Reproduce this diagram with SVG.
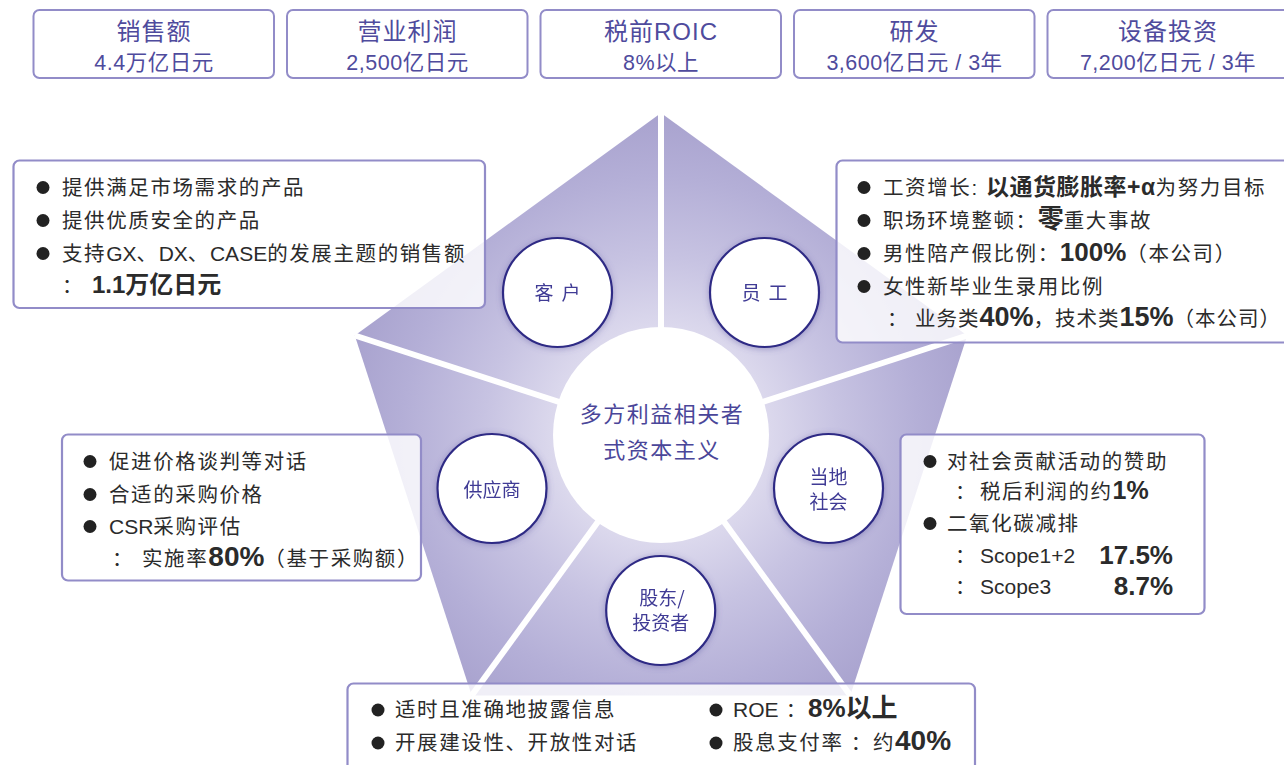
<svg xmlns="http://www.w3.org/2000/svg" width="1284" height="765" viewBox="0 0 1284 765">
<defs>
<radialGradient id="pg" gradientUnits="userSpaceOnUse" cx="661" cy="435" r="322">
<stop offset="0" stop-color="#f4f3fa"/>
<stop offset="0.33" stop-color="#dcd9ed"/>
<stop offset="0.55" stop-color="#c7c3e2"/>
<stop offset="0.8" stop-color="#b4afd7"/>
<stop offset="1" stop-color="#a8a2ce"/>
</radialGradient>
<filter id="glow" x="-30%" y="-30%" width="160%" height="160%">
<feGaussianBlur in="SourceAlpha" stdDeviation="3"/>
<feOffset dx="0" dy="1" result="b"/>
<feFlood flood-color="#5a549e" flood-opacity="0.45"/>
<feComposite in2="b" operator="in"/>
<feMerge><feMergeNode/><feMergeNode in="SourceGraphic"/></feMerge>
</filter>
<style>
.kbox{fill:#ffffff;stroke:#928cc8;stroke-width:2}
.ibox{fill:#ffffff;fill-opacity:0.82;stroke:#928cc8;stroke-width:2.2}
.kt{font-family:"Liberation Sans","Noto Sans CJK SC",sans-serif;fill:#4f4b9d;text-anchor:middle;letter-spacing:1px}
.kt1{font-size:24px}
.kt2{font-size:21.5px;letter-spacing:0.5px}
.bt{font-family:"Liberation Sans","Noto Sans CJK SC",sans-serif;font-size:20.5px;fill:#2b2b2b;letter-spacing:1.6px}
.l{letter-spacing:0;font-size:21px}
.b{font-weight:bold;letter-spacing:0}
.dot{fill:#222222}
.sc{fill:#ffffff;stroke:#2f2b85;stroke-width:2.2}
.st{font-family:"Noto Sans CJK SC","Liberation Sans",sans-serif;font-size:19px;fill:#3f3b95;text-anchor:middle}
.ct{font-family:"Noto Sans CJK SC","Liberation Sans",sans-serif;font-size:22px;fill:#4a4699;text-anchor:middle;letter-spacing:1.5px}
.div{stroke:#ffffff;stroke-width:6}
</style>
</defs>

<g id="pentagon">
<polygon points="661,113 967.2,335.5 850.3,695.5 471.7,695.5 354.8,335.5" fill="url(#pg)"/>
</g>
<g id="connectors">
<line class="div" x1="661" y1="435" x2="661" y2="113"/>
<line class="div" x1="661" y1="435" x2="967.2" y2="335.5"/>
<line class="div" x1="661" y1="435" x2="850.3" y2="695.5"/>
<line class="div" x1="661" y1="435" x2="471.7" y2="695.5"/>
<line class="div" x1="661" y1="435" x2="354.8" y2="335.5"/>
</g>

<g id="center">
<circle cx="661" cy="435" r="108" fill="#ffffff"/>
<text class="ct" x="662" y="422">多方利益相关者</text>
<text class="ct" x="662" y="458">式资本主义</text>
</g>

<g id="n-customer" filter="url(#glow)">
<circle class="sc" cx="557.5" cy="292.5" r="54.5"/>
<text class="st" x="561.5" y="299.5" style="letter-spacing:8px">客户</text>
</g>
<g id="n-employee" filter="url(#glow)">
<circle class="sc" cx="764.5" cy="292.5" r="54.5"/>
<text class="st" x="768.5" y="299.5" style="letter-spacing:8px">员工</text>
</g>
<g id="n-supplier" filter="url(#glow)">
<circle class="sc" cx="492" cy="488.5" r="54.5"/>
<text class="st" x="492" y="497">供应商</text>
</g>
<g id="n-community" filter="url(#glow)">
<circle class="sc" cx="828.5" cy="488.5" r="54.5"/>
<text class="st" x="828.5" y="484">当地</text>
<text class="st" x="828.5" y="508.5">社会</text>
</g>
<g id="n-shareholder" filter="url(#glow)">
<circle class="sc" cx="660.7" cy="610.5" r="54.5"/>
<text class="st" x="662" y="605">股东/</text>
<text class="st" x="660.7" y="630">投资者</text>
</g>

<g id="k-sales">
<rect class="kbox" x="33.5" y="10" width="240.5" height="68" rx="6"/>
<text class="kt kt1" x="154" y="40">销售额</text>
<text class="kt kt2" x="154" y="70">4.4万亿日元</text>
</g>
<g id="k-profit">
<rect class="kbox" x="287" y="10" width="240.5" height="68" rx="6"/>
<text class="kt kt1" x="407.5" y="40">营业利润</text>
<text class="kt kt2" x="407.5" y="70">2,500亿日元</text>
</g>
<g id="k-roic">
<rect class="kbox" x="540.5" y="10" width="240.5" height="68" rx="6"/>
<text class="kt kt1" x="661" y="40">税前ROIC</text>
<text class="kt kt2" x="661" y="70">8%以上</text>
</g>
<g id="k-rd">
<rect class="kbox" x="794" y="10" width="240.5" height="68" rx="6"/>
<text class="kt kt1" x="914.5" y="40">研发</text>
<text class="kt kt2" x="914.5" y="70">3,600亿日元 / 3年</text>
</g>
<g id="k-capex">
<rect class="kbox" x="1047.5" y="10" width="245" height="68" rx="6"/>
<text class="kt kt1" x="1168" y="40">设备投资</text>
<text class="kt kt2" x="1168" y="70">7,200亿日元 / 3年</text>
</g>

<g id="box-customer">
<rect class="ibox" x="13.5" y="160.5" width="471.5" height="147.5" rx="6"/>
<circle class="dot" cx="43" cy="187.5" r="6.5"/>
<circle class="dot" cx="43" cy="220.5" r="6.5"/>
<circle class="dot" cx="43" cy="253.5" r="6.5"/>
<text class="bt" x="62" y="195">提供满足市场需求的产品</text>
<text class="bt" x="62" y="228">提供优质安全的产品</text>
<text class="bt" x="62" y="261">支持<tspan class="l">GX</tspan>、<tspan class="l">DX</tspan>、<tspan class="l">CASE</tspan>的发展主题的销售额</text>
<text class="bt" x="62" y="293">：<tspan class="b" x="92" style="font-size:24px">1.1万亿日元</tspan></text>
</g>

<g id="box-employee">
<rect class="ibox" x="836.5" y="160.5" width="460" height="182" rx="6"/>
<circle class="dot" cx="864" cy="187.5" r="6.5"/>
<circle class="dot" cx="864" cy="220.5" r="6.5"/>
<circle class="dot" cx="864" cy="253.5" r="6.5"/>
<circle class="dot" cx="864" cy="286.5" r="6.5"/>
<text class="bt" x="883" y="195">工资增长: <tspan class="b" style="font-size:23px;letter-spacing:0.5px">以通货膨胀率+α</tspan>为努力目标</text>
<text class="bt" x="883" y="228">职场环境整顿：<tspan class="b" style="font-size:26px">零</tspan>重大事故</text>
<text class="bt" x="883" y="261">男性陪产假比例：<tspan class="b" style="font-size:26px">100%</tspan>（本公司）</text>
<text class="bt" x="883" y="294">女性新毕业生录用比例</text>
<text class="bt" x="887" y="326" style="letter-spacing:1px">：<tspan x="915">业务类</tspan><tspan class="b" style="font-size:27px">40%</tspan>，技术类<tspan class="b" style="font-size:27px">15%</tspan>（本公司）</text>
</g>

<g id="box-supplier">
<rect class="ibox" x="62" y="434.5" width="359" height="146" rx="6"/>
<circle class="dot" cx="90" cy="461.5" r="6.5"/>
<circle class="dot" cx="90" cy="494.5" r="6.5"/>
<circle class="dot" cx="90" cy="526.5" r="6.5"/>
<text class="bt" x="109" y="469">促进价格谈判等对话</text>
<text class="bt" x="109" y="502">合适的采购价格</text>
<text class="bt" x="109" y="534"><tspan class="l">CSR</tspan>采购评估</text>
<text class="bt" x="112" y="566">：<tspan x="142">实施率</tspan><tspan class="b" style="font-size:28px">80%</tspan>（基于采购额）</text>
</g>

<g id="box-community">
<rect class="ibox" x="900.5" y="434.5" width="304" height="179.5" rx="6"/>
<circle class="dot" cx="930" cy="461.5" r="6.5"/>
<circle class="dot" cx="930" cy="523.5" r="6.5"/>
<text class="bt" x="947" y="469">对社会贡献活动的赞助</text>
<text class="bt" x="955" y="499">：<tspan x="980">税后利润的约</tspan><tspan class="b" style="font-size:25px">1%</tspan></text>
<text class="bt" x="947" y="531">二氧化碳减排</text>
<text class="bt" x="955" y="563">：<tspan class="l" x="980">Scope1+2</tspan></text>
<text class="bt b" x="1173" y="564" style="font-size:26px" text-anchor="end">17.5%</text>
<text class="bt" x="955" y="594">：<tspan class="l" x="980">Scope3</tspan></text>
<text class="bt b" x="1173" y="595" style="font-size:26px" text-anchor="end">8.7%</text>
</g>

<g id="box-shareholder">
<rect class="ibox" x="347.5" y="683.5" width="627.5" height="95" rx="6"/>
<circle class="dot" cx="378" cy="710" r="6.5"/>
<circle class="dot" cx="378" cy="743" r="6.5"/>
<circle class="dot" cx="716" cy="710" r="6.5"/>
<circle class="dot" cx="716" cy="743" r="6.5"/>
<text class="bt" x="395" y="717">适时且准确地披露信息</text>
<text class="bt" x="395" y="750">开展建设性、开放性对话</text>
<text class="bt" x="733" y="717"><tspan class="l">ROE</tspan> ：<tspan class="b" style="font-size:26px">8%以上</tspan></text>
<text class="bt" x="733" y="750">股息支付率 ：约<tspan class="b" style="font-size:28px">40%</tspan></text>
</g>
</svg>
